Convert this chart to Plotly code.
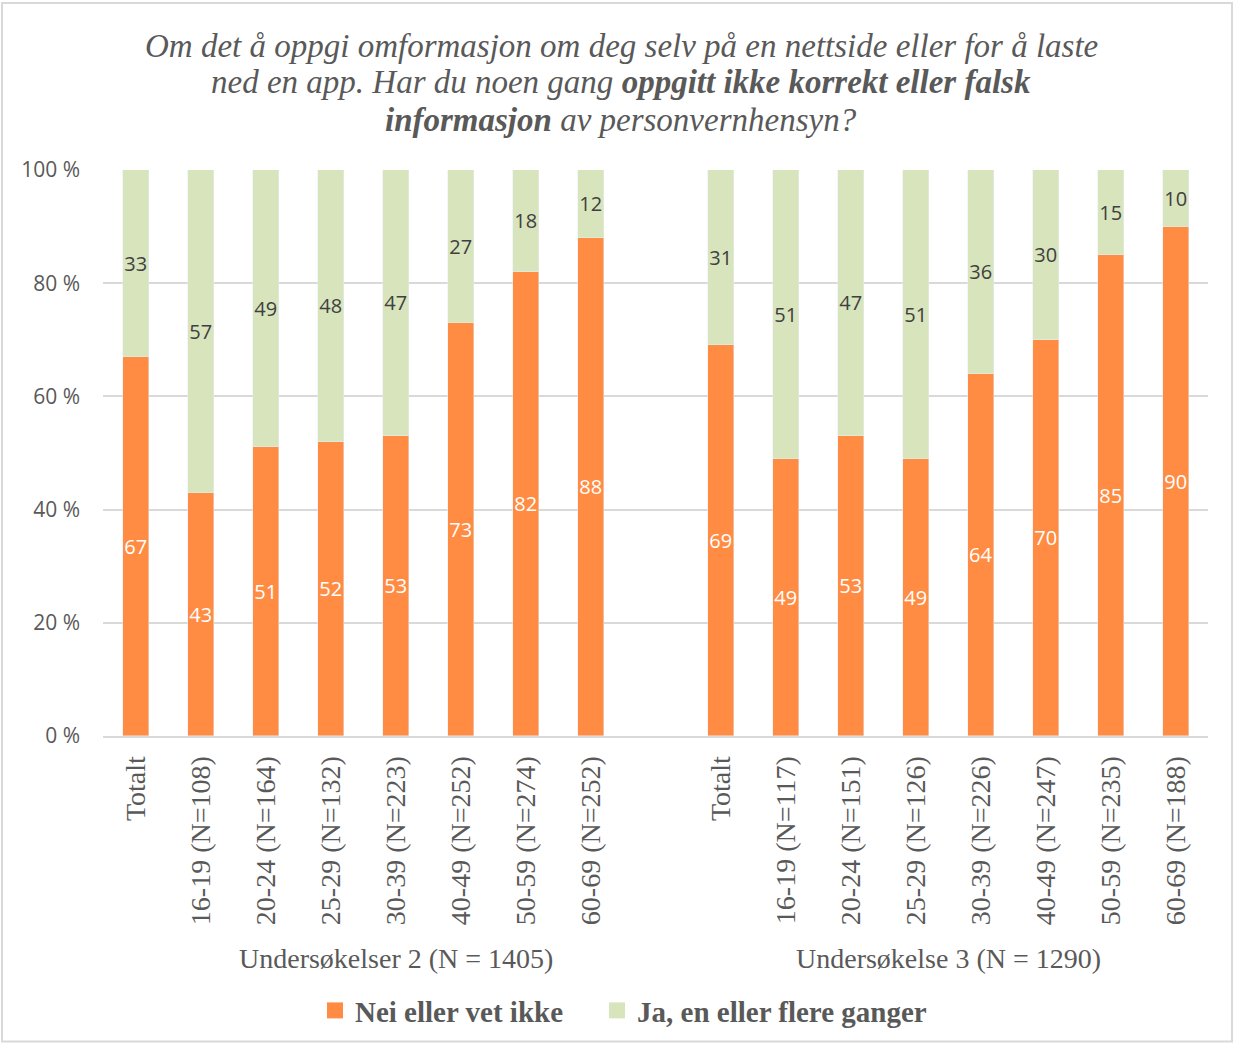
import plotly.graph_objects as go

# ---- data ----
labels_s2 = ["Totalt", "16-19 (N=108)", "20-24 (N=164)", "25-29 (N=132)", "30-39 (N=223)",
             "40-49 (N=252)", "50-59 (N=274)", "60-69 (N=252)"]
labels_s3 = ["Totalt", "16-19 (N=117)", "20-24 (N=151)", "25-29 (N=126)", "30-39 (N=226)",
             "40-49 (N=247)", "50-59 (N=235)", "60-69 (N=188)"]
nei_s2 = [67, 43, 51, 52, 53, 73, 82, 88]
ja_s2 = [33, 57, 49, 48, 47, 27, 18, 12]
nei_s3 = [69, 49, 53, 49, 64, 70, 85, 90]
ja_s3 = [31, 51, 47, 51, 36, 30, 15, 10]
group_names = ["Undersøkelser 2 (N = 1405)", "Undersøkelse 3 (N = 1290)"]
series_names = ["Nei eller vet ikke", "Ja, en eller flere ganger"]
y_ticks = [0, 20, 40, 60, 80, 100]
y_ticktext = ["0 %", "20 %", "40 %", "60 %", "80 %", "100 %"]
title_lines = [
    "Om det å oppgi omformasjon om deg selv på en nettside eller for å laste",
    "ned en app. Har du noen gang <b>oppgitt ikke korrekt eller falsk</b>",
    "<b>informasjon</b> av personvernhensyn?",
]

# positions: group 2 at 0..7, empty slot 8, group 3 at 9..16
x_s2 = list(range(len(labels_s2)))
x_s3 = [len(labels_s2) + 1 + i for i in range(len(labels_s3))]
xs = x_s2 + x_s3
nei = nei_s2 + nei_s3
ja = ja_s2 + ja_s3
ticktext = labels_s2 + labels_s3

ORANGE = "#FF8C42"
GREEN = "#D8E4BC"
GREY = "#595959"
serif = "Liberation Serif, Times New Roman, serif"
sans = "Open Sans, Liberation Sans, sans-serif"

W, H = 1234, 1048
L, R, T, B = 103, 26, 170, 309
PW, PH = W - L - R, H - T - B


def py(y_px):
    return (H - B - y_px) / PH


def px(x_px):
    return (x_px - L) / PW


fig = go.Figure()
fig.add_trace(go.Bar(
    x=xs, y=nei, name=series_names[0], marker_color=ORANGE, width=0.4,
    text=[str(v) for v in nei], textposition="inside", insidetextanchor="middle",
    textfont=dict(color="white", size=20, family=sans), constraintext="none",
    hoverinfo="skip", showlegend=False))
fig.add_trace(go.Bar(
    x=xs, y=ja, name=series_names[1], marker_color=GREEN, width=0.4,
    text=[str(v) for v in ja], textposition="inside", insidetextanchor="middle",
    textfont=dict(color="#404040", size=20, family=sans), constraintext="none",
    hoverinfo="skip", showlegend=False))
# legend entries (square swatches)
legend_labels = [series_names[0] + "\u00a0\u00a0\u00a0\u00a0", series_names[1]]
for name, col in zip(legend_labels, [ORANGE, GREEN]):
    fig.add_trace(go.Scatter(x=[None], y=[None], mode="markers", name=name,
                             marker=dict(symbol="square", size=16, color=col),
                             showlegend=True))

fig.update_layout(
    barmode="stack",
    width=W, height=H,
    margin=dict(l=L, r=R, t=T, b=B),
    paper_bgcolor="white", plot_bgcolor="white",
    showlegend=True,
    legend=dict(orientation="h", x=px(315), xanchor="left",
                y=py(1015), yanchor="middle",
                font=dict(family=serif, size=29, color=GREY, weight="bold"),
                itemsizing="trace", traceorder="normal"),
    xaxis=dict(range=[-0.5, len(xs) + 0.5], tickvals=xs, ticktext=ticktext,
               tickangle=-90, tickfont=dict(family=serif, size=28, color=GREY),
               showgrid=False, showline=True, linecolor="#d9d9d9", linewidth=2,
               ticks="", zeroline=False, automargin=False, ticklabelstandoff=7),
    yaxis=dict(range=[0, 100], tickvals=y_ticks, ticktext=y_ticktext,
               tickfont=dict(family=sans, size=21, color=GREY),
               showgrid=True, gridcolor="#d9d9d9", gridwidth=2,
               zeroline=False, ticks="", ticklabelstandoff=22, automargin=False),
    bargap=0,
)

# title lines
for line, ypx in zip(title_lines, [45, 82, 120]):
    fig.add_annotation(text=line, x=px(621), xref="paper", y=py(ypx), yref="paper",
                       showarrow=False, xanchor="center", yanchor="middle",
                       font=dict(family=serif, size=33, color=GREY, style="italic"))

# group labels
for name, xpos in zip(group_names, [4.0, 12.5]):
    fig.add_annotation(text=name, x=xpos, xref="x", y=py(963), yref="paper",
                       showarrow=False, yanchor="middle",
                       font=dict(family=serif, size=28, color=GREY))

# outer border
fig.add_shape(type="rect", xref="paper", yref="paper",
              x0=px(2), x1=px(1232), y0=py(1046), y1=py(2),
              line=dict(color="#d9d9d9", width=2), fillcolor="rgba(0,0,0,0)", layer="below")

fig.write_html("out.html", config={"displayModeBar": False},
               post_script="document.body.style.margin='0';")
